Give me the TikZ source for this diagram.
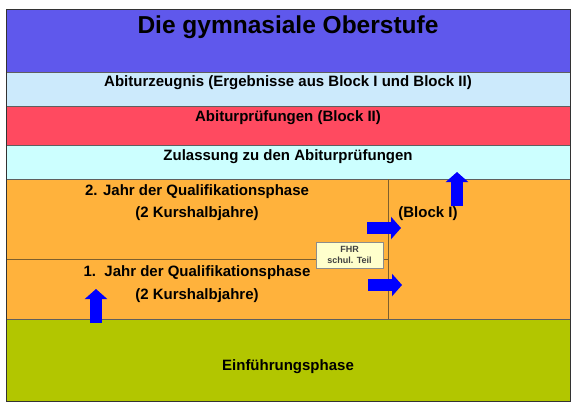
\documentclass[tikz,border=0pt]{standalone}
\usepackage{fontspec}
\setmainfont{Liberation Sans}
\usetikzlibrary{arrows.meta}
\tikzset{font=\bfseries\fontsize{15}{18}\selectfont}

\definecolor{titleblue}{RGB}{95,88,236}
\definecolor{zeugnisblue}{RGB}{204,234,252}
\definecolor{pruefred}{RGB}{255,74,96}
\definecolor{zulcyan}{RGB}{204,255,255}
\definecolor{qorange}{RGB}{255,178,60}
\definecolor{einfgreen}{RGB}{178,198,0}
\definecolor{fhryellow}{RGB}{255,255,204}
\definecolor{arrowblue}{RGB}{0,0,255}
\definecolor{bandline}{RGB}{95,95,95}
\definecolor{qline}{RGB}{125,95,45}

\begin{document}
\begin{tikzpicture}[x=1pt, y=-1pt]
	\useasboundingbox (0,0) rectangle (576,408);
	\begin{scope}[line width=0.7pt]
		\tikzstyle{every node}=[align=center, inner sep=1pt]
		\tikzstyle{blockarrow}=[draw=arrowblue, line width=12pt, -{Triangle[width=22pt,length=10pt]}]

		% bands
		\fill[titleblue] (6,9) rectangle (570,72);
		\fill[zeugnisblue] (6,72) rectangle (570,106);
		\fill[pruefred] (6,106) rectangle (570,145);
		\fill[zulcyan] (6,145) rectangle (570,179);
		\fill[qorange] (6,179) rectangle (570,319);
		\fill[einfgreen] (6,319) rectangle (570,401);

		\draw[bandline] (6,72) -- (570,72);
		\draw[bandline] (6,106) -- (570,106);
		\draw[bandline] (6,145) -- (570,145);
		\draw[bandline] (6,179) -- (570,179);
		\draw[qline] (6,259) -- (388,259);
		\draw[qline] (388,179) -- (388,319);
		\draw[bandline] (6,319) -- (570,319);
		\draw[black!80, line width=1pt] (6,9) rectangle (570,401);

		\node[font=\bfseries\fontsize{24.5}{28}\selectfont] (title) at (288,27) {Die gymnasiale Oberstufe};
		\node (zeugnis) at (288,83) {Abiturzeugnis (Ergebnisse aus Block I und Block II)};
		\node (pruef) at (288,118) {Abiturprüfungen (Block II)};
		\node (zul) at (288,157) {Zulassung zu den Abiturprüfungen};
		\node (jahr2) at (197,192) {2. Jahr der Qualifikationsphase};
		\node (kurs2) at (197,214) {(2 Kurshalbjahre)};
		\node (jahr1) at (197,273) {1.\ \ Jahr der Qualifikationsphase};
		\node (kurs1) at (197,296) {(2 Kurshalbjahre)};
		\node (blocki) at (428,214) {(Block I)};
		\node (einf) at (288,367) {Einführungsphase};

		\node[draw=black!45, fill=fhryellow, minimum width=67pt, minimum height=26pt,
			text=black!75, font=\bfseries\fontsize{9}{11}\selectfont] (fhr) at (349.5,255) {FHR\\schul. Teil};

		% arrows
		\coordinate (up1a) at (96,323);
		\coordinate (up1b) at (96,289);
		\coordinate (r2a) at (367,228);
		\coordinate (r2b) at (401,228);
		\coordinate (r1a) at (368,285);
		\coordinate (r1b) at (402,285);
		\coordinate (up2a) at (457,206);
		\coordinate (up2b) at (457,172);

		\draw [blockarrow] (up1a) to (up1b);
		\draw [blockarrow] (r2a) to (r2b);
		\draw [blockarrow] (r1a) to (r1b);
		\draw [blockarrow] (up2a) to (up2b);
	\end{scope}
\end{tikzpicture}
\end{document}
